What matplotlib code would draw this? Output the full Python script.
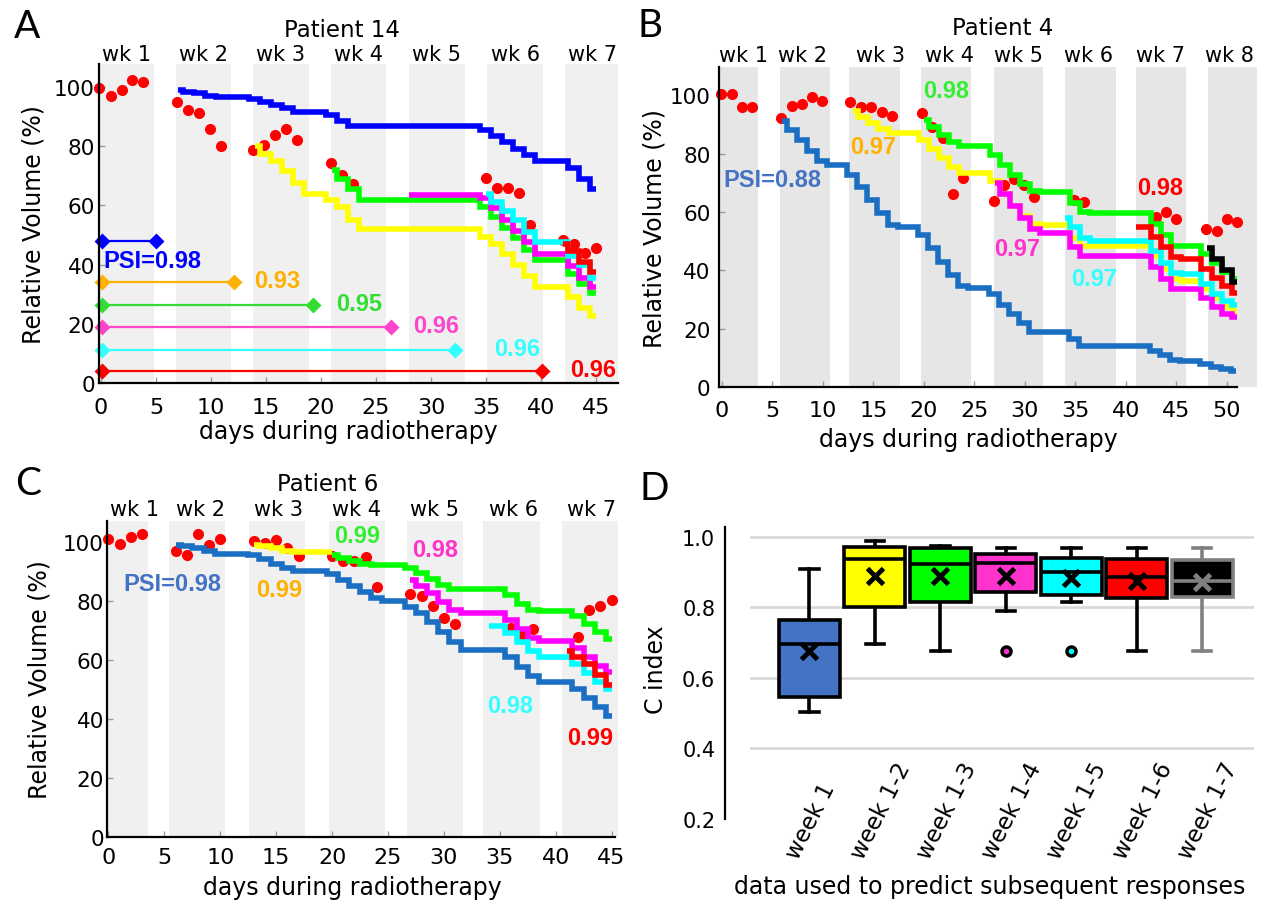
import matplotlib
matplotlib.use('Agg')
import matplotlib.pyplot as plt
import matplotlib.transforms as mtransforms
import numpy as np

plt.rcParams['font.family'] = ['DejaVu Sans']

W, H = 1261, 903

# ---------------- Panel A : Patient 14 ----------------
A_DOT_DAYS = [-0.15, 0.9, 1.9, 2.85, 3.85, 6.9, 7.9, 8.9, 9.9, 10.9,
              13.8, 14.8, 15.8, 16.8, 17.8, 20.9, 21.9, 22.9,
              35, 36, 37, 38, 39, 42, 43, 44, 45]
A_DOT_VOL = [99.8, 97, 98.9, 102.5, 101.6, 95, 92.3, 91.2, 85.7, 80.2,
             78.7, 80.3, 83.7, 85.7, 82, 74.2, 70.2, 67.4,
             69.3, 66, 66, 64.3, 53.4, 48.2, 47, 44, 45.6]

A_BLUE_START = 7
A_BLUE = [99, 98.5, 98, 97, 96.5, 96.5, 96.5, 96, 95, 94, 93, 91.5, 91.5, 91.5,
          90.5, 88.5, 87, 87, 87, 87, 87, 87, 87, 87, 87, 87, 87, 87,
          85.5, 83.5, 81.5, 79, 77, 75, 75, 75, 72.5, 69, 65.5]
A_YELLOW_START = 14
A_YELLOW = [80, 77.5, 75, 71.5, 67.5, 64, 64, 62, 59.5, 55, 52,
            52, 52, 52, 52, 52, 52, 52, 52, 52, 52,
            49.5, 47, 43.5, 40, 36, 32.5, 32.5, 32.5, 29, 25.5, 22.5]
A_GREEN_START = 21
A_GREEN = [72, 69, 65.5, 62, 62, 62, 62, 62, 62, 62, 62, 62, 62, 62,
           59.5, 56, 52.5, 49, 45, 41.5, 41.5, 41.5, 37, 33.5, 30.5]
A_MAGENTA_START = 28
A_MAGENTA = [63.5, 63.5, 63.5, 63.5, 63.5, 63.5, 63.5,
             62.5, 59, 55, 51.5, 47.5, 43.5, 43.5, 43.5, 39.5, 35.5, 32.5]
A_CYAN_START = 35
A_CYAN = [64, 61, 58, 55, 51, 47.5, 47.5, 47.5, 43, 40, 35.5]
A_RED_START = 42
A_RED = [47, 44.5, 41, 37.5]

A_BAR_LEVEL = [48, 34, 26.3, 18.8, 11.3, 4]
A_BAR_END = [5, 12.1, 19.3, 26.4, 32.2, 40.1]
A_BAR_TEXT = ['PSI=0.98', '0.93', '0.95', '0.96', '0.96', '0.96']
A_BAR_TEXT_X = [0.2, 16.0, 23.5, 30.5, 37.8, 44.7]
A_BAR_TEXT_Y = [41.5, 34.5, 27, 19.3, 11.8, 4.5]
A_BAR_COLORS = ['#0000ff', '#ffb000', '#33dd33', '#ff44cc', '#33ffff', '#ff0000']

A_BAND_START = [-0.2, 6.8, 13.8, 20.9, 28.0, 35.1, 42.2]
A_BAND_END = [4.8, 11.8, 18.9, 25.9, 33.1, 40.2, 47.0]
A_WEEKS = ['wk 1', 'wk 2', 'wk 3', 'wk 4', 'wk 5', 'wk 6', 'wk 7']
A_WEEK_X = [2.3, 9.3, 16.3, 23.4, 30.5, 37.7, 44.7]

# ---------------- Panel B : Patient 4 ----------------
B_DOT_DAYS = [-0.1, 1.0, 2.0, 3.0, 5.8, 6.9, 7.9, 8.9, 9.9,
              12.7, 13.8, 14.8, 15.8, 16.8, 19.8, 20.8, 21.9, 22.9, 23.9,
              26.9, 27.9, 28.9, 29.9, 30.9, 34.9, 35.9, 43.0, 44.0, 45.0,
              47.9, 49.0, 50.0, 51.0]
B_DOT_VOL = [100.5, 100.5, 96, 96, 92, 96.3, 96.9, 99.2, 98.1,
             97.7, 95.8, 95.8, 94.3, 93, 94, 89.2, 85.2, 66.3, 71.6,
             63.6, 69.3, 71.3, 69.3, 65.1, 64.2, 63.3, 58.2, 59.9, 57.6,
             54.2, 53.6, 57.6, 56.4]

B_BLUE_START = 5.9
B_BLUE = [91, 88, 84.5, 81, 77.5, 76, 76, 72.5, 68.5, 64, 59.5, 55.5, 55, 55,
          52, 47.5, 43, 38.5, 34.5, 34, 34, 32, 28, 25, 22, 19, 18.8, 18.8, 18.8,
          16.5, 14.2, 14.2, 14.2, 14.2, 14.2, 14.2, 14.2, 12.5, 11, 9.2, 9.1, 9.1,
          8, 7, 6.2, 5.7]
B_YELLOW_START = 13
B_YELLOW = [94.5, 92.5, 90.5, 88.5, 87, 86.9, 86.9, 84.5, 81.5, 78.5, 75.5, 73.3,
            73.3, 73.3, 70.5, 66, 62, 58.5, 56, 55.7, 55.7, 55.7, 51, 48.3,
            48.3, 48.3, 48.3, 48.3, 48.3, 48.3, 45, 40.5, 37, 36.4, 36.4,
            33.5, 30.5, 27.5, 26]
B_GREEN_START = 20
B_GREEN = [91.5, 89, 86.5, 84, 82.4, 82.4, 82.4, 79.5, 76, 72.5, 69.5, 67.2, 67,
           67, 67, 63, 60, 59.7, 59.7, 59.7, 59.7, 59.7, 59.7, 56, 52, 48.5,
           48.3, 48.3, 45.5, 42.5, 39.5, 37]
B_MAGENTA_START = 27
B_MAGENTA = [70, 66, 62, 58, 54, 52.8, 52.8, 52.8, 48, 44.9, 44.9, 44.9, 44.9,
             44.9, 44.9, 44.9, 41, 37, 33.5, 33.5, 33.5, 30.5, 27.5, 25, 23.9]
B_CYAN_START = 34
B_CYAN = [58, 55, 51, 50.2, 50.2, 50.2, 50.2, 50.2, 50.2, 46.5, 42.5, 39,
          38.8, 38.8, 35.5, 32, 29.5, 28]
B_RED_START = 41
B_RED = [55, 55, 51.5, 48, 44.5, 43.9, 43.9, 40.5, 37.5, 34.5, 32.3]
B_BLACK_START = 48
B_BLACK = [47.5, 44, 40, 36]

B_PSI_TEXT = ['PSI=0.88', '0.97', '0.98', '0.97', '0.97', '0.98']
B_PSI_X = [0.1, 15.0, 22.2, 29.2, 36.9, 43.4]
B_PSI_Y = [71, 82.4, 101.5, 47.4, 37.4, 68.4]
B_PSI_COLORS = ['#4472c4', '#ffb000', '#33ee33', '#ff33cc', '#33ffff', '#ff0000']

B_BAND_START = [-0.3, 5.7, 12.6, 19.7, 26.9, 34.0, 41.0, 48.1]
B_BAND_END = [3.6, 10.7, 17.6, 24.7, 31.8, 39.0, 46.0, 53.0]
B_WEEKS = ['wk 1', 'wk 2', 'wk 3', 'wk 4', 'wk 5', 'wk 6', 'wk 7', 'wk 8']
B_WEEK_X = [2.1, 8.0, 15.7, 22.5, 29.4, 36.3, 43.4, 50.3]

# ---------------- Panel C : Patient 6 ----------------
C_DOT_DAYS = [0, 1, 2, 3, 6, 7, 8, 9, 10, 13, 14, 15, 16, 17,
              20, 21, 22, 23, 24, 27, 28, 29, 30, 31, 36, 37, 38, 42, 43, 44, 45]
C_DOT_VOL = [100.9, 99.2, 101.5, 102.6, 97, 95.6, 102.6, 98.9, 100.9,
             100.3, 99.7, 100.6, 97.8, 95.2, 95.2, 93.6, 93.3, 94.9, 84.6,
             82.4, 81.5, 78.1, 74.2, 72.2, 70.7, 68.8, 70.5, 67.7, 76.9, 78.1, 80.4]

C_BLUE_START = 6
C_BLUE = [99, 98.5, 98, 97, 96, 96, 96, 95.5, 94, 92.5, 91, 90, 90, 90, 89, 87,
          85, 83, 81, 80, 80, 78, 76, 73, 69.5, 66, 63.5, 63.5, 63.5, 63.5,
          61, 57.5, 54.5, 52.5, 52.5, 52.5, 50, 47, 44, 41]
C_YELLOW_START = 13
C_YELLOW = [99, 98.5, 98, 97, 96.5, 96.5, 96.5, 96.5]
C_GREEN_START = 20
C_GREEN = [95.5, 94.5, 93.5, 92.5, 92, 92, 92, 91, 89.5, 87.5, 85.5, 84, 84, 84,
           84, 84, 82, 79, 77, 76.5, 76.5, 76.5, 75, 72, 69.5, 67]
C_MAGENTA_START = 27
C_MAGENTA = [87, 85, 82.5, 79.5, 77, 76, 76, 76, 76, 73.5, 70.5, 67.5, 66.5,
             66.5, 66.5, 64, 61, 58, 56]
C_CYAN_START = 34
C_CYAN = [71.5, 71.5, 69, 66, 63, 61, 61, 61, 58.5, 55.5, 52.5, 50]
C_RED_START = 41
C_RED = [63, 61, 58.5, 55, 51.5]

C_PSI_TEXT = ['PSI=0.98', '0.99', '0.99', '0.98', '0.98', '0.99']
C_PSI_X = [1.3, 15.3, 22.2, 29.2, 35.9, 43.05]
C_PSI_Y = [85.7, 83.7, 102.2, 97.2, 44.5, 33.8]
C_PSI_COLORS = ['#4472c4', '#ffb000', '#33ee33', '#ff33cc', '#33ffff', '#ff0000']

C_BAND_START = [-0.2, 5.4, 12.6, 19.7, 26.7, 33.5, 40.6]
C_BAND_END = [3.5, 10.4, 17.6, 24.7, 31.7, 38.6, 45.6]
C_WEEKS = ['wk 1', 'wk 2', 'wk 3', 'wk 4', 'wk 5', 'wk 6', 'wk 7']
C_WEEK_X = [2.3, 8.2, 15.2, 22.2, 29.2, 36.2, 43.2]

# ---------------- Panel D : C index box plot ----------------
D_LABELS = ['week 1', 'week 1-2', 'week 1-3', 'week 1-4', 'week 1-5', 'week 1-6', 'week 1-7']
D_WHISLO = [0.503, 0.697, 0.677, 0.791, 0.815, 0.677, 0.677]
D_Q1 = [0.547, 0.801, 0.816, 0.843, 0.836, 0.827, 0.829]
D_MED = [0.695, 0.938, 0.924, 0.926, 0.900, 0.887, 0.876]
D_Q3 = [0.763, 0.970, 0.967, 0.950, 0.939, 0.938, 0.934]
D_WHISHI = [0.909, 0.987, 0.974, 0.968, 0.968, 0.968, 0.968]
D_MEAN = [0.675, 0.890, 0.888, 0.888, 0.884, 0.876, 0.872]
D_FLIERS = [[], [], [], [0.677], [0.677], [], []]
D_COLORS = ['#4472c4', '#ffff00', '#00ff00', '#ff33cc', '#00ffff', '#ff0000', '#000000']

LINE_BLUE = '#1a6fc2'
PSI_FONT = dict(family='Liberation Sans', weight='bold', fontsize=17)


def px_axes(left, top, right, bottom):
    return [left / W, 1 - bottom / H, (right - left) / W, (bottom - top) / H]


def step_line(ax, start, vals, color, z=3):
    days = start + np.arange(len(vals))
    ax.step(days, vals, where='mid', color=color, lw=4.0,
            solid_capstyle='butt', solid_joinstyle='miter', zorder=z)


def volume_panel(ax, xlim, ylim, band_start, band_end, band_color, weeks, week_x,
                 week_y, title, title_x, title_y, xticks, spine_end, xlab_pos, ylab_x,
                 xpad, ypad):
    for s, e in zip(band_start, band_end):
        ax.axvspan(s, e, color=band_color, lw=0, zorder=0)
    ax.set_xlim(*xlim)
    ax.set_ylim(*ylim)
    ax.set_xticks(xticks)
    ax.set_yticks([0, 20, 40, 60, 80, 100])
    for side in ['top', 'right']:
        ax.spines[side].set_visible(False)
    for side in ['left', 'bottom']:
        ax.spines[side].set_linewidth(1.6)
        ax.spines[side].set_zorder(5)
    ax.spines['bottom'].set_bounds(xlim[0], spine_end)
    ax.tick_params(axis='both', direction='in', length=4, width=1, color='#999999')
    ax.tick_params(axis='x', labelsize=16, pad=xpad)
    ax.tick_params(axis='y', labelsize=15.5, pad=ypad)
    tr = mtransforms.blended_transform_factory(ax.transData, ax.transAxes)
    for lab, x in zip(weeks, week_x):
        ax.text(x, week_y, lab, transform=tr, ha='center', va='center', fontsize=15)
    ax.text(title_x, title_y, title, transform=tr, ha='center', va='center', fontsize=16.5)
    ax.text(xlab_pos[0], xlab_pos[1], 'days during radiotherapy', transform=ax.transAxes,
            ha='center', va='center', fontsize=17)
    ax.text(ylab_x, 0.5, 'Relative Volume (%)', transform=ax.transAxes, rotation=90,
            ha='center', va='center', fontsize=17)


fig = plt.figure(figsize=(W / 100, H / 100), dpi=100)

# ---- A ----
axA = fig.add_axes(px_axes(99, 65, 618, 384))
volume_panel(axA, (-0.18, 47.0), (0, 107.8), A_BAND_START, A_BAND_END, '#f0f0f0',
             A_WEEKS, A_WEEK_X, 1.03, 'Patient 14', 21.9, 1.107,
             range(0, 50, 5), 47.0, (0.48, -0.15), -0.127, 10, 3)
axA.plot(A_DOT_DAYS, A_DOT_VOL, 'o', color='#ff0000', ms=8, mec='none', zorder=2, clip_on=False)
step_line(axA, A_BLUE_START, A_BLUE, '#0000ff')
step_line(axA, A_YELLOW_START, A_YELLOW, '#ffff00')
step_line(axA, A_GREEN_START, A_GREEN, '#00ff00')
step_line(axA, A_MAGENTA_START, A_MAGENTA, '#ff00ff')
step_line(axA, A_CYAN_START, A_CYAN, '#00ffff')
step_line(axA, A_RED_START, A_RED, '#ff0000')
for lvl, end, txt, tx, ty, c in zip(A_BAR_LEVEL, A_BAR_END, A_BAR_TEXT,
                                     A_BAR_TEXT_X, A_BAR_TEXT_Y, A_BAR_COLORS):
    axA.plot([0.1, end], [lvl, lvl], color=c, lw=1.6, marker='D', ms=8.5,
             mec='none', zorder=4, clip_on=False)
    axA.text(tx, ty, txt, color=c, ha='left' if txt.startswith('PSI') else 'center',
             va='center', zorder=6, **PSI_FONT)

# ---- B ----
axB = fig.add_axes(px_axes(719, 68.3, 1257, 388.3))
volume_panel(axB, (-0.3, 53.0), (0, 109.5), B_BAND_START, B_BAND_END, '#e6e6e6',
             B_WEEKS, B_WEEK_X, 1.038, 'Patient 4', 27.8, 1.124,
             range(0, 55, 5), 51.0, (0.463, -0.161), -0.12, 9, 6)
axB.plot(B_DOT_DAYS, B_DOT_VOL, 'o', color='#ff0000', ms=8, mec='none', zorder=2, clip_on=False)
step_line(axB, B_BLUE_START, B_BLUE, LINE_BLUE)
step_line(axB, B_YELLOW_START, B_YELLOW, '#ffff00')
step_line(axB, B_GREEN_START, B_GREEN, '#00ff00')
step_line(axB, B_MAGENTA_START, B_MAGENTA, '#ff00ff')
step_line(axB, B_CYAN_START, B_CYAN, '#00ffff')
step_line(axB, B_RED_START, B_RED, '#ff0000')
step_line(axB, B_BLACK_START, B_BLACK, '#000000')
for txt, tx, ty, c in zip(B_PSI_TEXT, B_PSI_X, B_PSI_Y, B_PSI_COLORS):
    axB.text(tx, ty, txt, color=c, ha='left' if txt.startswith('PSI') else 'center',
             va='center', zorder=6, **PSI_FONT)

# ---- C ----
axC = fig.add_axes(px_axes(106.7, 521.7, 618.3, 838.3))
volume_panel(axC, (-0.16, 45.6), (0, 107.1), C_BAND_START, C_BAND_END, '#f0f0f0',
             C_WEEKS, C_WEEK_X, 1.0385, 'Patient 6', 19.6, 1.116,
             range(0, 50, 5), 45.3, (0.48, -0.157), -0.131, 7, 2)
axC.plot(C_DOT_DAYS, C_DOT_VOL, 'o', color='#ff0000', ms=8, mec='none', zorder=2, clip_on=False)
step_line(axC, C_BLUE_START, C_BLUE, LINE_BLUE)
step_line(axC, C_YELLOW_START, C_YELLOW, '#ffff00')
step_line(axC, C_GREEN_START, C_GREEN, '#00ff00')
step_line(axC, C_MAGENTA_START, C_MAGENTA, '#ff00ff')
step_line(axC, C_CYAN_START, C_CYAN, '#00ffff')
step_line(axC, C_RED_START, C_RED, '#ff0000')
for txt, tx, ty, c in zip(C_PSI_TEXT, C_PSI_X, C_PSI_Y, C_PSI_COLORS):
    axC.text(tx, ty, txt, color=c, ha='left' if txt.startswith('PSI') else 'center',
             va='center', zorder=6, **PSI_FONT)

# ---- D ----
axD = fig.add_axes(px_axes(725, 528.3, 1254, 820))
axD.set_xlim(-0.29, 7.79)
axD.set_ylim(0.2, 1.027)
for v in [0.4, 0.6, 0.8, 1.0]:
    axD.axhline(v, xmin=0.05, color='#d9d9d9', lw=2, zorder=0)
stats = []
for i in range(len(D_LABELS)):
    stats.append(dict(label=D_LABELS[i], whislo=D_WHISLO[i], q1=D_Q1[i], med=D_MED[i],
                      q3=D_Q3[i], whishi=D_WHISHI[i], mean=D_MEAN[i], fliers=D_FLIERS[i]))
pos = np.arange(1, len(D_LABELS) + 1)
bp = axD.bxp(stats, positions=pos, widths=0.93, capwidths=0.28, patch_artist=True,
             showmeans=True, manage_ticks=False,
             boxprops=dict(lw=2.6, edgecolor='black'),
             whiskerprops=dict(lw=2.6, color='black'),
             capprops=dict(lw=2.6, color='black'),
             medianprops=dict(lw=2.6, color='black'),
             meanprops=dict(marker='x', ms=12, mew=3.5, color='black', mec='black'),
             flierprops=dict(marker='o', ms=6.5, mew=2.5, mec='black'))
for i, c in enumerate(D_COLORS):
    bp['boxes'][i].set_facecolor(c)
    bp['boxes'][i].set_zorder(3)
    bp['medians'][i].set_zorder(4)
    bp['means'][i].set_zorder(5)
    bp['fliers'][i].set_markerfacecolor(c)
for ln in bp['whiskers'] + bp['caps']:
    ln.set_zorder(2)
# last box drawn in gray outline
gray = '#808080'
bp['boxes'][6].set_edgecolor(gray)
bp['medians'][6].set_color(gray)
bp['means'][6].set_markeredgecolor(gray)
for ln in bp['whiskers'][12:14] + bp['caps'][12:14]:
    ln.set_color(gray)

axD.set_xticks([])
axD.set_yticks([0.2, 0.4, 0.6, 0.8, 1.0])
axD.set_yticklabels(['0.2', '0.4', '0.6', '0.8', '1.0'])
axD.tick_params(axis='y', length=0, labelsize=15, pad=7)
for side in ['top', 'right', 'bottom']:
    axD.spines[side].set_visible(False)
axD.spines['left'].set_linewidth(1.6)
for p, lab in zip(pos, D_LABELS):
    axD.text(p - 0.27, 0.092, lab, rotation=63, rotation_mode='anchor', ha='left',
             va='center', fontsize=16.5, clip_on=False)
axD.text(0.5, -0.228, 'data used to predict subsequent responses', transform=axD.transAxes,
         ha='center', va='center', fontsize=17)
axD.text(-0.13, 0.514, 'C index', transform=axD.transAxes, rotation=90,
         ha='center', va='center', fontsize=17)

# panel letters
for letter, x, y in [('A', 27, 27), ('B', 650, 26), ('C', 28, 484), ('D', 654, 489)]:
    fig.text(x / W, 1 - y / H, letter, ha='center', va='center', fontsize=28, family='Lato')

fig.savefig('out.png', dpi=100)
